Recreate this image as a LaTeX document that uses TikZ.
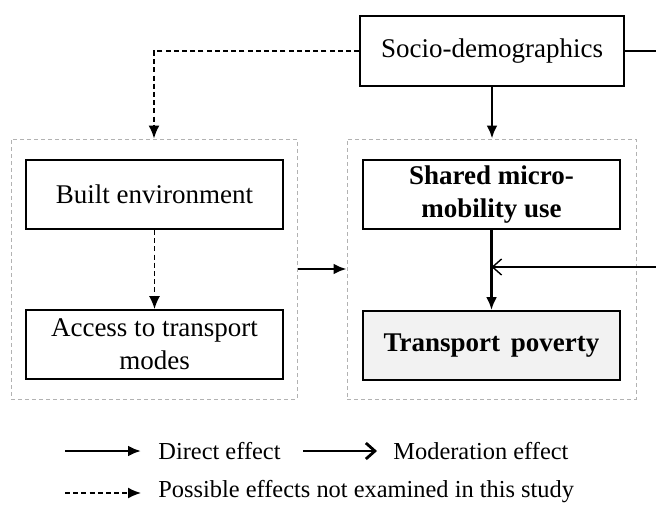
\documentclass[tikz,border=0pt]{standalone}
\usepackage{fontspec}
\setmainfont{Liberation Serif}
\usetikzlibrary{arrows.meta}

\tikzset{
	box/.style={draw,line width=0.9pt,minimum width=128.5pt,minimum height=34.5pt,
		align=center,inner sep=2pt,font=\fontsize{13.5}{16.5}\selectfont},
	group/.style={draw=gray!60,line width=0.5pt,dash pattern=on 2pt off 1.5pt,
		minimum width=143pt,minimum height=130pt},
	direct/.style={line width=1.4pt,-{Latex[length=6.5pt,width=5.5pt]}},
	moderate/.style={line width=1.4pt,-{Straight Barb[length=4.5pt,width=8pt]}},
	possible/.style={line width=0.8pt,dash pattern=on 2.5pt off 1.6pt,-{Latex[length=6.5pt,width=5.5pt]}},
	legend/.style={anchor=west,inner sep=0pt,font=\fontsize{12.2}{14}\selectfont}
}

\begin{document}
\begin{tikzpicture}[x=0.5pt,y=-0.5pt]
	\useasboundingbox (0,0) rectangle (656,504);

	% groups
	\node[group] (leftgrp) at (154,269) {};
	\node[group,minimum width=144.5pt] (rightgrp) at (491.5,269) {};

	% boxes
	\node[box,minimum width=132pt,minimum height=35pt] (socio) at (492,51) {Socio-demographics};
	\node[box] (built) at (154.5,194.5) {Built environment};
	\node[box] (access) at (154.5,344.5) {Access to transport\\modes};
	\node[box,font=\fontsize{13.5}{16.5}\selectfont\bfseries] (shared) at (491.5,194.5) {Shared micro-\\mobility use};
	\node[box,fill=gray!10,font=\fontsize{13.5}{16.5}\selectfont\bfseries] (poverty) at (491.5,345.5) {Transport\hspace{0.4em}poverty};

	% connectors
	\coordinate (sociout) at (656,51);
	\coordinate (modin) at (656,267);
	\draw[possible] (socio.west) -| (leftgrp.north);
	\draw[direct] (socio.south) -- (socio.south |- rightgrp.north);
	\draw[line width=0.7pt] (socio.east) -- (sociout);
	\draw[possible] (built) -- (access);
	\draw[direct] (leftgrp.east) -- (rightgrp.west);
	\draw[direct] (shared) -- (poverty);
	\draw[moderate,line width=0.7pt] (modin) -- (shared.south |- modin);

	% legend
	\coordinate (l1a) at (65,451);  \coordinate (l1b) at (141,451);
	\coordinate (l2a) at (303,451); \coordinate (l2b) at (377,451);
	\coordinate (l3a) at (65,493);  \coordinate (l3b) at (141,493);
	\draw[direct] (l1a) -- (l1b);
	\draw[moderate] (l2a) -- (l2b);
	\draw[possible] (l3a) -- (l3b);
	\node[legend] (ldirect) at (158,451) {Direct effect};
	\node[legend] (lmod) at (393,451) {Moderation effect};
	\node[legend] (lposs) at (158,492) {Possible effects not examined in this study};
\end{tikzpicture}
\end{document}
